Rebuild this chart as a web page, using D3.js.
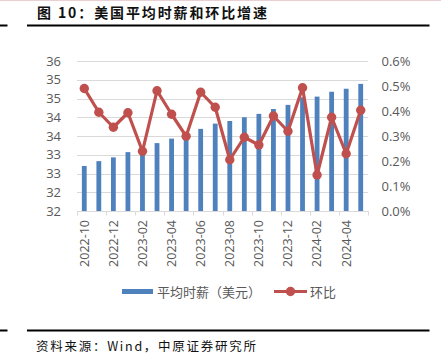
<!DOCTYPE html>
<html><head><meta charset="utf-8">
<script src="https://cdn.jsdelivr.net/npm/d3@7"></script>
<style>
html,body{margin:0;padding:0;background:#fff;}
svg{display:block;}
</style></head>
<body>
<script>
const months = ["2022-10","2022-11","2022-12","2023-01","2023-02","2023-03","2023-04","2023-05","2023-06","2023-07","2023-08","2023-09","2023-10","2023-11","2023-12","2024-01","2024-02","2024-03","2024-04","2024-05"];
const wage = [32.80,32.93,33.03,33.17,33.24,33.41,33.53,33.60,33.79,33.93,34.00,34.10,34.19,34.32,34.43,34.63,34.65,34.78,34.86,34.99];
const mom = [0.49,0.395,0.335,0.393,0.239,0.481,0.387,0.299,0.475,0.415,0.205,0.295,0.264,0.38,0.319,0.493,0.144,0.375,0.229,0.403];
const leftTicks = [31.6,32.1,32.6,33.1,33.6,34.1,34.6,35.1,35.6];
const rightTicks = [0,0.1,0.2,0.3,0.4,0.5,0.6];
const title = "图 10：美国平均时薪和环比增速";
const source = "资料来源：Wind，中原证券研究所";
const seriesNames = ["平均时薪（美元）","环比"];

const W=441,H=358;
const L=77,R=368,T=61,B=211;
const blue="#4F81BD", red="#C0504D", grid="#d9d9d9", txt="#595959";
const svg=d3.select("body").append("svg").attr("width",W).attr("height",H);

// top faint page border
svg.append("line").attr("x1",0).attr("x2",W).attr("y1",0.5).attr("y2",0.5).attr("stroke","#ead0d3").attr("stroke-width",1);

// title
svg.append("text").attr("x",37).attr("y",18).attr("font-family","'Noto Sans CJK SC',sans-serif")
  .attr("font-weight","bold").attr("font-size",14).attr("fill","#111")
  .attr("textLength",230).attr("lengthAdjust","spacing").text(title);
[[0,7.5],[27,429.5]].forEach(([a,b])=>{
  svg.append("line").attr("x1",a).attr("x2",b).attr("y1",25.5).attr("y2",25.5).attr("stroke","#000").attr("stroke-width",2);
  svg.append("line").attr("x1",a).attr("x2",b).attr("y1",330.5).attr("y2",330.5).attr("stroke","#000").attr("stroke-width",2);
});
svg.append("text").attr("x",36).attr("y",350.5).attr("font-family","'Noto Sans CJK SC',sans-serif")
  .attr("font-size",12.5).attr("fill","#111").attr("textLength",220).attr("lengthAdjust","spacing").text(source);

const x=d3.scaleBand().domain(months).range([L,R]).paddingInner(0.67).paddingOuter(0.335);
const step=x.step();
const yL=d3.scaleLinear().domain([31.6,35.6]).range([B,T]);
const yR=d3.scaleLinear().domain([0,0.6]).range([B,T]);

// gridlines
svg.append("g").selectAll("line").data(leftTicks.slice(1)).join("line")
  .attr("x1",L).attr("x2",R).attr("y1",d=>Math.round(yL(d))+0.5).attr("y2",d=>Math.round(yL(d))+0.5)
  .attr("stroke",grid).attr("stroke-width",1);

// left axis labels
const fmtL=d3.format(".0f");
svg.append("g").selectAll("text").data(leftTicks).join("text")
  .attr("x",61).attr("y",d=>yL(d)).attr("dy","0.35em").attr("text-anchor","end")
  .attr("font-family","'Open Sans',sans-serif").attr("font-size",13).attr("fill",txt)
  .text(d=>fmtL(d));
// right axis labels
const fmtR=d=>d3.format(".1f")(d)+"%";
svg.append("g").selectAll("text").data(rightTicks).join("text")
  .attr("x",381.5).attr("y",d=>yR(d)).attr("dy","0.35em").attr("text-anchor","start")
  .attr("font-family","'Open Sans',sans-serif").attr("font-size",13).attr("fill",txt)
  .text(d=>fmtR(d));

// bars
svg.append("g").selectAll("rect").data(months).join("rect")
  .attr("x",(d)=>x(d)).attr("width",x.bandwidth())
  .attr("y",(d,i)=>yL(wage[i])).attr("height",(d,i)=>B-yL(wage[i]))
  .attr("fill",blue);

// x axis line and ticks
svg.append("line").attr("x1",L).attr("x2",R).attr("y1",B+0.5).attr("y2",B+0.5).attr("stroke",grid).attr("stroke-width",1);
const tickIdx=d3.range(0,months.length+1,2);
svg.append("g").selectAll("line").data(tickIdx).join("line")
  .attr("x1",i=>Math.round(L+i*step)+0.5).attr("x2",i=>Math.round(L+i*step)+0.5)
  .attr("y1",B).attr("y2",B+4.5).attr("stroke",grid).attr("stroke-width",1);

// x labels
svg.append("g").selectAll("text").data(months.filter((d,i)=>i%2===0)).join("text")
  .attr("transform",d=>`translate(${x(d)+x.bandwidth()/2},220) rotate(-90)`)
  .attr("text-anchor","end").attr("dy","0.35em")
  .attr("font-family","'Open Sans',sans-serif").attr("font-size",12.5).attr("fill",txt)
  .text(d=>d);

// line series
const cx=d=>x(d)+x.bandwidth()/2;
svg.append("path").datum(months)
  .attr("d",d3.line().x(d=>cx(d)).y((d,i)=>yR(mom[i])))
  .attr("fill","none").attr("stroke",red).attr("stroke-width",3.2).attr("stroke-linejoin","round");
svg.append("g").selectAll("circle").data(months).join("circle")
  .attr("cx",d=>cx(d)).attr("cy",(d,i)=>yR(mom[i])).attr("r",4.7).attr("fill",red);

// legend
const lg=svg.append("g");
lg.append("rect").attr("x",122).attr("y",289).attr("width",31).attr("height",5).attr("fill",blue);
lg.append("text").attr("x",157).attr("y",296.5).attr("font-family","'Noto Sans CJK SC',sans-serif")
  .attr("font-size",13).attr("fill",txt).attr("textLength",104).attr("lengthAdjust","spacing").text(seriesNames[0]);
lg.append("line").attr("x1",274).attr("x2",307).attr("y1",291.5).attr("y2",291.5).attr("stroke",red).attr("stroke-width",3.2);
lg.append("circle").attr("cx",290.5).attr("cy",291.5).attr("r",4.7).attr("fill",red);
lg.append("text").attr("x",310).attr("y",296.5).attr("font-family","'Noto Sans CJK SC',sans-serif")
  .attr("font-size",13).attr("fill",txt).text(seriesNames[1]);
</script>
</body></html>
